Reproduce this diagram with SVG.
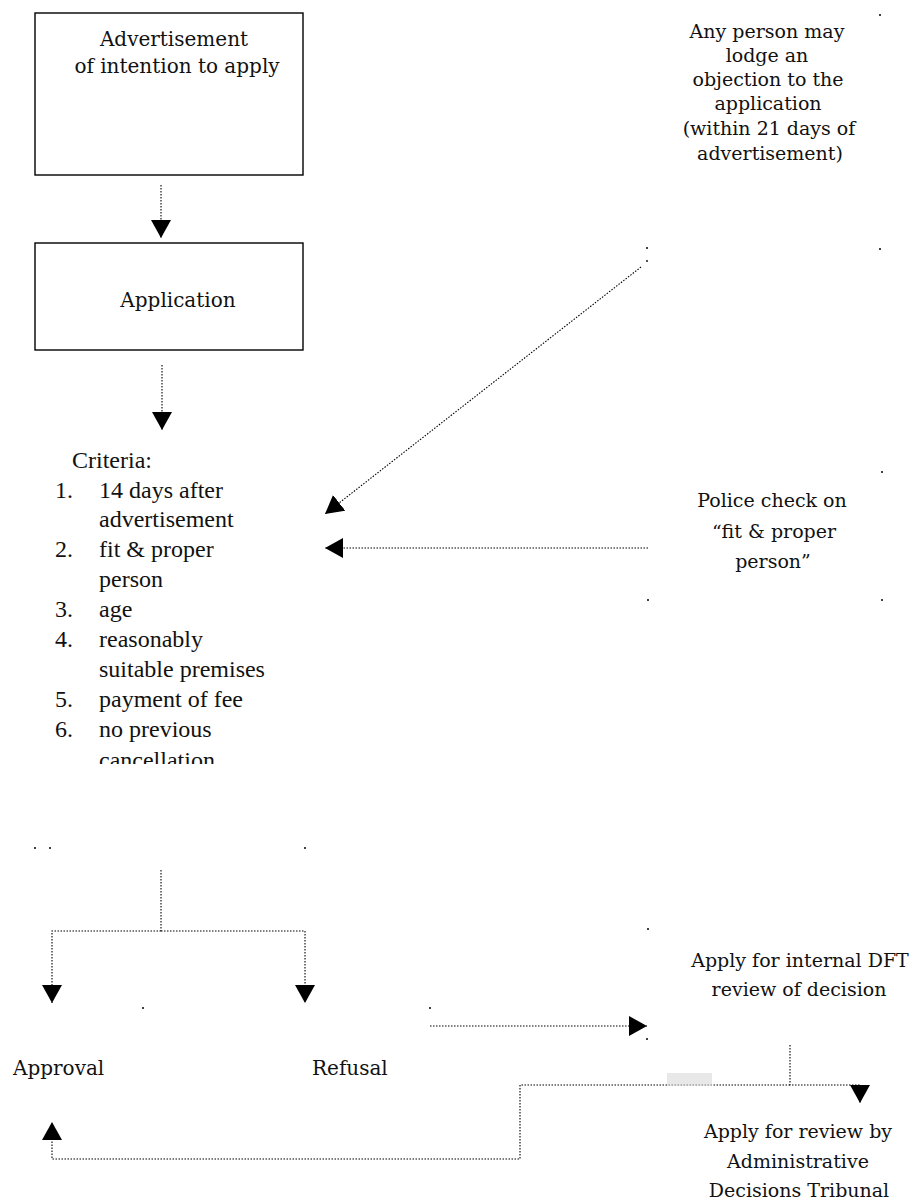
<svg xmlns="http://www.w3.org/2000/svg" width="920" height="1201" viewBox="0 0 920 1201">
<style>
.box{fill:none;stroke:#000;stroke-width:1.4}
.t{font-family:"DejaVu Serif","Liberation Serif",serif;font-size:19px;fill:#111}
.tb{font-family:"DejaVu Serif","Liberation Serif",serif;font-size:20px;fill:#111}
.c{font-family:"Liberation Serif",serif;font-size:24px;fill:#111}
.conn{fill:none;stroke:#000;stroke-width:1.1;stroke-dasharray:1.5 1.5}
.dot{fill:#000}
</style>
<defs>
<marker id="ah" markerUnits="userSpaceOnUse" markerWidth="18" markerHeight="20" viewBox="0 0 18 20" refX="18" refY="10" orient="auto">
<path d="M0,0 L18,10 L0,20 z" fill="#000"/>
</marker>
<clipPath id="clipCrit"><rect x="0" y="440" width="340" height="324"/></clipPath>
</defs>

<g id="advertisement">
<rect class="box" x="35" y="13" width="268" height="162"/>
<text class="tb" text-anchor="middle"><tspan x="174" y="46">Advertisement</tspan><tspan x="177" y="73">of intention to apply</tspan></text>
</g>

<g id="application">
<rect class="box" x="35" y="243" width="268" height="107"/>
<text class="tb" x="178" y="307" text-anchor="middle">Application</text>
</g>

<g id="objection">
<text class="t" text-anchor="middle"><tspan x="767" y="38">Any person may</tspan><tspan x="767" y="62">lodge an</tspan><tspan x="768" y="86">objection to the</tspan><tspan x="768" y="110">application</tspan><tspan x="769" y="135">(within 21 days of</tspan><tspan x="770" y="160">advertisement)</tspan></text>
</g>

<g id="criteria" clip-path="url(#clipCrit)">
<text class="c" x="72" y="468">Criteria:</text>
<text class="c" x="55" y="498">1.</text><text class="c" x="99" y="498">14 days after</text>
<text class="c" x="99" y="527">advertisement</text>
<text class="c" x="55" y="557">2.</text><text class="c" x="99" y="557">fit &amp; proper</text>
<text class="c" x="99" y="587">person</text>
<text class="c" x="55" y="617">3.</text><text class="c" x="99" y="617">age</text>
<text class="c" x="55" y="647">4.</text><text class="c" x="99" y="647">reasonably</text>
<text class="c" x="99" y="677">suitable premises</text>
<text class="c" x="55" y="707">5.</text><text class="c" x="99" y="707">payment of fee</text>
<text class="c" x="55" y="737">6.</text><text class="c" x="99" y="737">no previous</text>
<text class="c" x="99" y="768">cancellation</text>
</g>

<g id="police">
<text class="t" text-anchor="middle"><tspan x="772" y="507">Police check on</tspan><tspan x="774" y="538">“fit &amp; proper</tspan><tspan x="773" y="568">person”</tspan></text>
</g>

<g id="approval">
<text class="tb" x="13" y="1075">Approval</text>
</g>

<g id="refusal">
<text class="tb" x="312" y="1075">Refusal</text>
</g>

<g id="internal-review">
<text class="t" text-anchor="middle"><tspan x="800" y="967">Apply for internal DFT</tspan><tspan x="799" y="996">review of decision</tspan></text>
</g>

<g id="adt-review">
<text class="t" text-anchor="middle"><tspan x="798" y="1138">Apply for review by</tspan><tspan x="798" y="1168">Administrative</tspan><tspan x="799" y="1197">Decisions Tribunal</tspan></text>
</g>

<g id="connectors">
<path class="conn" d="M161,185 V238" marker-end="url(#ah)"/>
<path class="conn" d="M162,365 V430" marker-end="url(#ah)"/>
<path class="conn" d="M641,267 L325,514" marker-end="url(#ah)"/>
<path class="conn" d="M648,548 H325" marker-end="url(#ah)"/>
<path class="conn" d="M161,870 V931"/>
<path class="conn" d="M161,931 H52 V1003" marker-end="url(#ah)"/>
<path class="conn" d="M161,931 H305 V1003" marker-end="url(#ah)"/>
<path class="conn" d="M430,1026 H647" marker-end="url(#ah)"/>
<path class="conn" d="M790,1045 V1085 H860 V1103" marker-end="url(#ah)"/>
<path class="conn" d="M790,1085 H520 V1159 H52 V1122" marker-end="url(#ah)"/>
</g>

<g id="marks">
<rect x="667" y="1073" width="45" height="13" fill="#d8d8d8" opacity="0.6"/>
<circle class="dot" cx="880" cy="15" r="1"/>
<circle class="dot" cx="880" cy="249" r="1"/>
<circle class="dot" cx="647" cy="248" r="1"/>
<circle class="dot" cx="647" cy="261" r="0.9"/>
<circle class="dot" cx="882" cy="472" r="1"/>
<circle class="dot" cx="648" cy="600" r="1"/>
<circle class="dot" cx="882" cy="600" r="1"/>
<circle class="dot" cx="35" cy="848" r="1"/>
<circle class="dot" cx="50" cy="848" r="1"/>
<circle class="dot" cx="305" cy="848" r="1"/>
<circle class="dot" cx="143" cy="1008" r="1"/>
<circle class="dot" cx="430" cy="1008" r="1"/>
<circle class="dot" cx="648" cy="929" r="1"/>
<circle class="dot" cx="647" cy="1039" r="1"/>
</g>
</svg>
